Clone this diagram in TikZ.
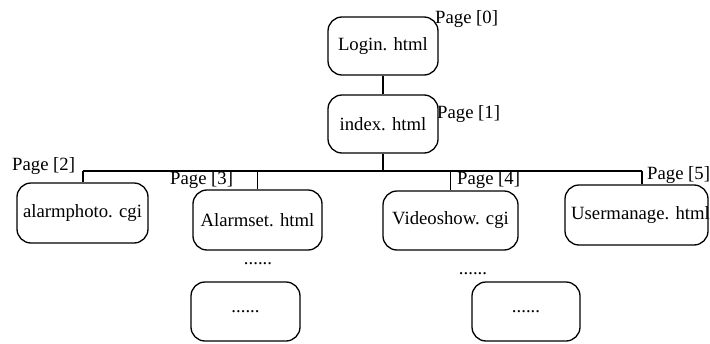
\documentclass[tikz,border=0pt]{standalone}
\usepackage{fontspec}
\setmainfont{Liberation Serif}
\begin{document}
\begin{tikzpicture}[x=1pt,y=-1pt,
  every node/.style={font=\fontsize{18.7}{22}\selectfont, inner sep=0pt},
  pagebox/.style={draw, line width=1.3pt, rounded corners=14pt, align=center},
  pagelabel/.style={anchor=base west},
  conn/.style={line width=1.3pt}]
\useasboundingbox (0,0) rectangle (710,343);
% boxes (position = center, size = w x h)
\node[pagebox, minimum width=110pt, minimum height=58pt] (login) at (383,46) {Login. html};
\node[pagebox, minimum width=110pt, minimum height=58pt] (index) at (383,124) {index. html};
\node[pagebox, minimum width=131pt, minimum height=60pt] (alarm) at (82.5,213) {alarmphoto. cgi};
\node[pagebox, minimum width=129pt, minimum height=60pt] (aset) at (257.5,220) {Alarmset. html};
\node[pagebox, minimum width=135pt, minimum height=59pt] (video) at (450.5,220.5) {Videoshow. cgi};
\node[pagebox, minimum width=143pt, minimum height=60pt] (user) at (636.5,215) {};
\node (usertext) at ([xshift=4pt]user.center) {Usermanage. html};
\node[pagebox, minimum width=109pt, minimum height=59pt] (more1) at (245.5,311.5) {......};
\node[pagebox, minimum width=108pt, minimum height=59pt] (more2) at (526,311.5) {......};
% labels
\node[pagelabel] (l0) at (435,23) {Page [0]};
\node[pagelabel] (l1) at (437,118) {Page [1]};
\node[pagelabel] (l2) at (12,170) {Page [2]};
\node[pagelabel] (l3) at (170,184) {Page [3]};
\node[pagelabel] (l4) at (457,184) {Page [4]};
\node[pagelabel] (l5) at (647,179) {Page [5]};
\node[anchor=base] (d1) at (258,264) {......};
\node[anchor=base] (d2) at (473,274) {......};
% connectors
\coordinate (busL) at (83,171);
\coordinate (busR) at (642,171);
\draw[conn] (login.south) -- (index.north);
\draw[conn] (index.south) -- (index.south |- busL);
\draw[conn] (busL) -- (busR);
\draw[conn] (busL) -- (busL |- alarm.north);
\draw[conn] (aset.north |- busL) -- (aset.north);
\draw[conn] (video.north |- busL) -- (video.north);
\draw[conn] (busR) -- (busR |- user.north);
\end{tikzpicture}
\end{document}
